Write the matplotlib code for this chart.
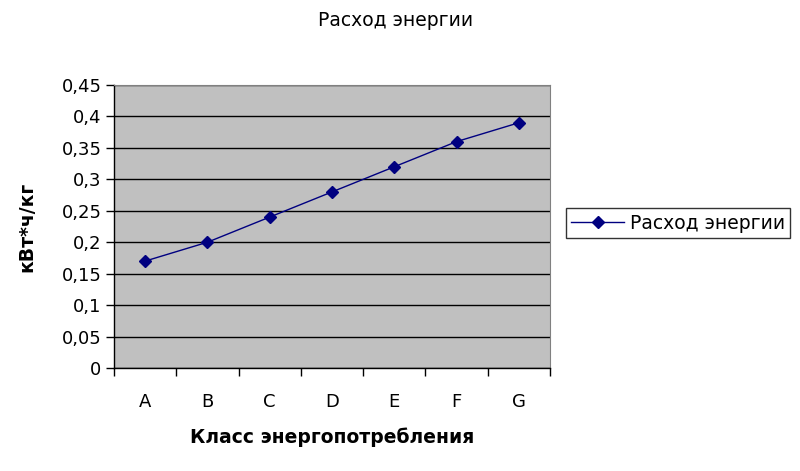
import matplotlib
matplotlib.use("Agg")
import matplotlib.pyplot as plt
from matplotlib.ticker import FixedLocator, FuncFormatter

categories = ["A", "B", "C", "D", "E", "F", "G"]
values = [0.17, 0.20, 0.24, 0.28, 0.32, 0.36, 0.39]
yticks = [0, 0.05, 0.1, 0.15, 0.2, 0.25, 0.3, 0.35, 0.4, 0.45]
series_name = "Расход энергии"

plt.rcParams['font.family'] = ['DejaVu Sans']

fig = plt.figure(figsize=(8, 4.71), dpi=100)
ax = fig.add_axes([0.1425, 0.2187, 0.545, 0.6008])
ax.set_facecolor('#C0C0C0')

x = list(range(len(categories)))
line, = ax.plot(x, values, color='#000080', linewidth=1.0, marker='D',
                markersize=6, markerfacecolor='#000080', markeredgecolor='#000080',
                label=series_name, zorder=3)

ax.set_xlim(-0.5, len(categories) - 0.5)
ax.set_ylim(0, 0.45)
ax.set_yticks(yticks)
ax.yaxis.set_major_formatter(FuncFormatter(lambda v, p: ('%g' % round(v, 2)).replace('.', ',')))
ax.yaxis.grid(True, color='black', linewidth=1.0)
ax.set_axisbelow(True)

ax.set_xticks(x)
ax.set_xticklabels(categories)
ax.xaxis.set_minor_locator(FixedLocator([i - 0.5 for i in range(len(categories) + 1)]))
ax.tick_params(axis='x', which='major', length=0, pad=18, labelsize=13)
ax.tick_params(axis='x', which='minor', length=6, width=1, direction='out', color='black')
ax.tick_params(axis='y', length=6, width=1, direction='out', labelsize=13, pad=3)

for s in ['top', 'right']:
    ax.spines[s].set_color('#808080')
for s in ['left', 'bottom']:
    ax.spines[s].set_color('black')
    ax.spines[s].set_linewidth(1.0)

ax.set_ylabel("кВт*ч/кг", fontsize=13.5, fontweight='bold', labelpad=18)
ax.set_xlabel("Класс энергопотребления", fontsize=13.5, fontweight='bold', labelpad=12)
fig.text(0.494, 0.957, series_name, ha='center', va='center', fontsize=13.5)

leg = fig.legend(handles=[line], loc='center', bbox_to_anchor=(0.8475, 0.5265),
                 frameon=True, fancybox=False, fontsize=13.5, handlelength=2.8,
                 borderpad=0.3, handletextpad=0.3, borderaxespad=0)
leg.get_frame().set_edgecolor('black')
leg.get_frame().set_linewidth(1.0)

fig.savefig("out.png", dpi=100)
